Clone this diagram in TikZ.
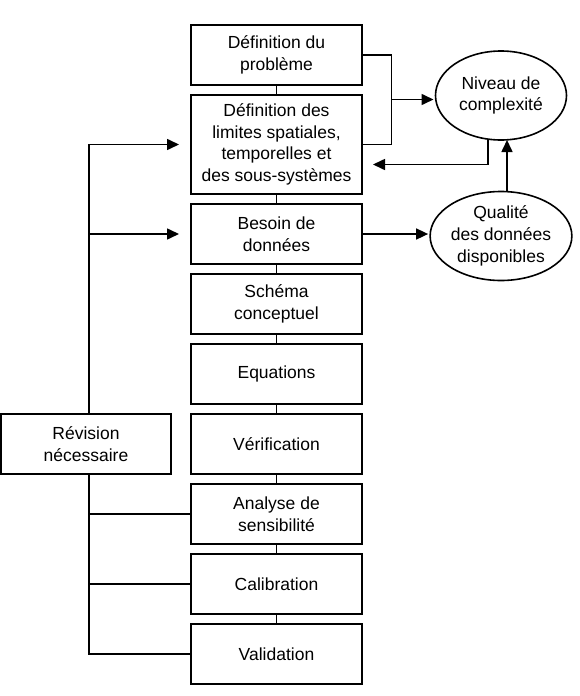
\documentclass[tikz,border=0pt]{standalone}
\usepackage{fontspec}
\setmainfont{Liberation Sans}
\usetikzlibrary{shapes,arrows.meta,positioning}
\tikzstyle{line} = [draw, -{Triangle[length=12pt,width=11pt]}]
\tikzstyle{box} = [rectangle, draw, minimum width=171pt, minimum height=60pt, align=center, inner sep=2pt, outer sep=0pt]
\tikzstyle{round} = [draw, ellipse, minimum width=131pt, minimum height=89pt, align=center, inner sep=0pt, outer sep=0pt]

\begin{document}
\begin{tikzpicture}[x=1pt, y=-1pt, line width=1.6pt, node distance=10pt, every node/.style={font=\fontsize{17.5}{21.7}\selectfont}]
	\useasboundingbox (0,0) rectangle (580,696);
	
	\node [box] (def1) at (276.5,55) {Définition du\\problème};
	\node [box, below=of def1, minimum height=99pt] (def2) {Définition des\\limites spatiales,\\temporelles et\\des sous-systèmes};
	\node [box, below=of def2] (besoin) {Besoin de\\données};
	\node [box, below=of besoin] (schema) {Schéma\\conceptuel};
	\node [box, below=of schema] (equ) {Equations};
	\node [box, below=of equ] (verif) {Vérification};
	\node [box, below=of verif] (analyse) {Analyse de\\sensibilité};
	\node [box, below=of analyse] (calib) {Calibration};
	\node [box, below=of calib] (valid) {Validation};
	\node [box, left=20pt of verif, minimum width=170pt] (rev) {Révision\\nécessaire};
	
	\node [round] (niveau) at (501,95.5) {Niveau de\\complexité};
	\node [round] (qualite) at (501,236) {Qualité\\des données\\disponibles};
	
	% chaine principale
	\foreach \a/\b in {def1/def2, def2/besoin, besoin/schema, schema/equ, equ/verif, verif/analyse, analyse/calib, calib/valid}
		\draw (\a) -- (\b);
	
	% boucle de revision
	\coordinate (spine) at ([xshift=3pt]rev.north);
	\path [line, shorten >=12pt] (spine) |- (def2.west);
	\path [line, shorten >=12pt] (spine |- besoin.west) -- (besoin.west);
	\draw ([xshift=3pt]rev.south) |- (valid.west);
	\draw (spine |- analyse.west) -- (analyse.west);
	\draw (spine |- calib.west) -- (calib.west);
	
	% complexite
	\coordinate (fork) at (391.5,99.5);
	\draw (def1.east) -| (fork) |- (def2.east);
	\path [line, shorten >=2pt] (fork) -- (fork -| niveau.west);
	\path [line, shorten >=11pt] ([xshift=-13pt]niveau.south) |- ([yshift=-20pt]def2.east);
	\path [line, shorten >=2pt] (besoin.east) -- (besoin.east -| qualite.west);
	\path [line] ([xshift=6pt]qualite.north) -- ([xshift=6pt]niveau.south);
\end{tikzpicture}
\end{document}
